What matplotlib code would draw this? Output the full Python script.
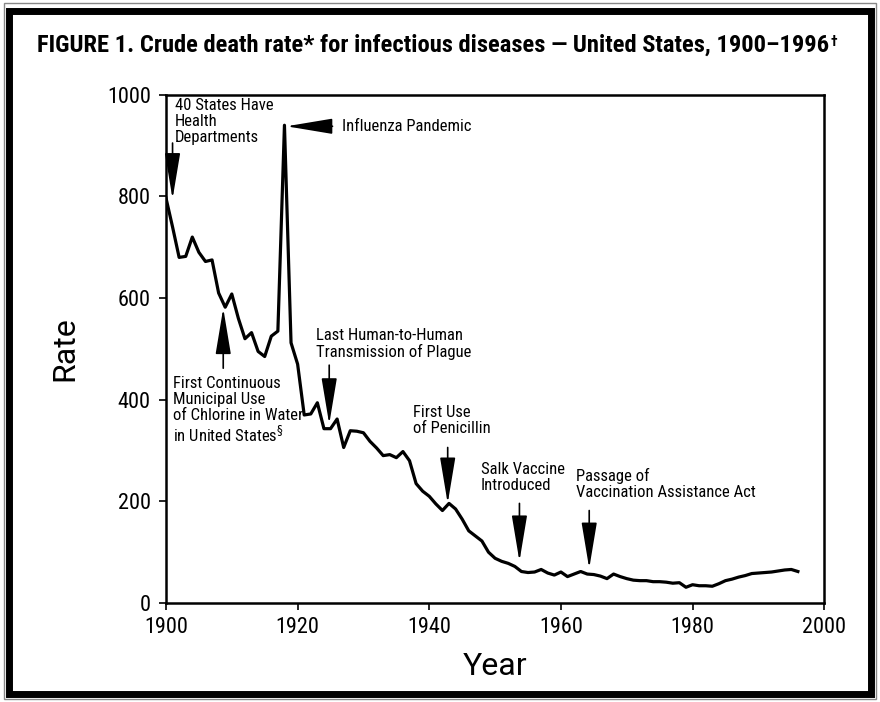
import numpy as np
import matplotlib
matplotlib.use('Agg')
from matplotlib import pyplot as plt
from matplotlib.patches import Rectangle
from matplotlib import font_manager as fm

# crude death rate per 100,000
years = list(range(1900, 1997))
rates = [797, 740, 680, 682, 720, 690, 672, 675, 610, 582,
         608, 560, 520, 532, 495, 485, 525, 535, 940, 512,
         470, 370, 372, 394, 343, 343, 362, 306, 339, 338,
         335, 318, 305, 290, 292, 286, 298, 280, 235, 220,
         210, 195, 182, 196, 185, 165, 142, 132, 122, 100,
         88, 82, 78, 72, 62, 60, 61, 66, 59, 55,
         61, 52, 57, 62, 57, 56, 53, 48, 57, 52,
         48, 45, 44, 44, 42, 42, 41, 39, 40, 31,
         36, 34, 34, 33, 38, 44, 47, 51, 54, 58,
         59, 60, 61, 63, 65, 66, 62]

event_labels = ['40 States Have\nHealth\nDepartments',
                'Influenza Pandemic',
                'First Continuous\nMunicipal Use\nof Chlorine in Water\nin United States$^§$',
                'Last Human-to-Human\nTransmission of Plague',
                'First Use\nof Penicillin',
                'Salk Vaccine\nIntroduced',
                'Passage of\nVaccination Assistance Act']

xticks = [1900, 1920, 1940, 1960, 1980, 2000]
yticks = [0, 200, 400, 600, 800, 1000]

# pick a narrow face if one is around
installed = set(f.name for f in fm.fontManager.ttflist)
font = 'DejaVu Sans'
for cand in ['Liberation Sans Narrow', 'Roboto Condensed', 'Open Sans Condensed', 'Roboto', 'Liberation Sans']:
    if cand in installed:
        font = cand
        break
plt.rcParams['font.family'] = [font, 'DejaVu Sans']
wide = ['Roboto', 'DejaVu Sans']

fig = plt.figure(figsize=(8.8, 7.02), dpi=100)

# frame around the figure
fig.patches.append(Rectangle((0.004, 0.004), 0.992, 0.992, transform=fig.transFigure,
                             fill=False, lw=1, ec='#888888'))
fig.patches.append(Rectangle((0.01, 0.012), 0.98, 0.972, transform=fig.transFigure,
                             fill=False, lw=5, ec='black'))

title = fig.text(0.042, 0.935, 'FIGURE 1. Crude death rate* for infectious diseases \u2014 United States, 1900\u20131996',
                 fontsize=15, fontweight='bold', ha='left', va='center')

ax = fig.add_axes([0.1886, 0.141, 0.748, 0.724])
ax.plot(years, rates, color='black', lw=2.3)
ax.set_xlim(1900, 2000)
ax.set_ylim(0, 1000)
ax.set_xticks(xticks)
ax.set_yticks(yticks)
ax.tick_params(labelsize=16, length=5, width=1.2, direction='out')
ax.tick_params(axis='x', pad=5)
ax.tick_params(axis='y', pad=6)
for s in ax.spines.values():
    s.set_linewidth(1.8)
ax.set_ylabel('Rate', fontsize=23, labelpad=20, family=wide)
ax.set_xlabel('Year', fontsize=23, labelpad=10, family=wide)

arrow = dict(arrowstyle='-|>,head_length=1.8,head_width=0.3', color='black',
             lw=1.2, mutation_scale=16, shrinkA=0, shrinkB=0)
fs = 12

ax.annotate('', xy=(1901, 795), xytext=(1901, 905), arrowprops=arrow)
ax.text(1901.4, 994, event_labels[0], fontsize=fs, va='top', linespacing=1.1)

ax.annotate('', xy=(1918.3, 938), xytext=(1925.3, 938), arrowprops=arrow)
ax.text(1926.7, 938, event_labels[1], fontsize=fs, va='center')

ax.annotate('', xy=(1908.7, 580), xytext=(1908.7, 462), arrowprops=arrow)
ax.text(1901, 447, event_labels[2], fontsize=fs, va='top', linespacing=1.1)

ax.annotate('', xy=(1924.8, 352), xytext=(1924.8, 468), arrowprops=arrow)
ax.text(1922.8, 542, event_labels[3], fontsize=fs, va='top', linespacing=1.1)

ax.annotate('', xy=(1942.8, 196), xytext=(1942.8, 306), arrowprops=arrow)
ax.text(1937.5, 390, event_labels[4], fontsize=fs, va='top', linespacing=1.1)

ax.annotate('', xy=(1953.7, 82), xytext=(1953.7, 196), arrowprops=arrow)
ax.text(1947.8, 278, event_labels[5], fontsize=fs, va='top', linespacing=1.1)

ax.annotate('', xy=(1964.3, 68), xytext=(1964.3, 182), arrowprops=arrow)
ax.text(1962.3, 266, event_labels[6], fontsize=fs, va='top', linespacing=1.1)

# stretch the title to the width it has in the original, then hang the dagger on it
fig.canvas.draw()
bb = title.get_window_extent()
title.set_fontsize(15 * (828 - 37) / bb.width)
fig.canvas.draw()
bb = title.get_window_extent()
fig.text((bb.x1 + 1) / 880, (bb.y1 - 1) / 702, '\u2020', fontsize=10, fontweight='bold',
         ha='left', va='top')

fig.savefig('out.png', dpi=100)
